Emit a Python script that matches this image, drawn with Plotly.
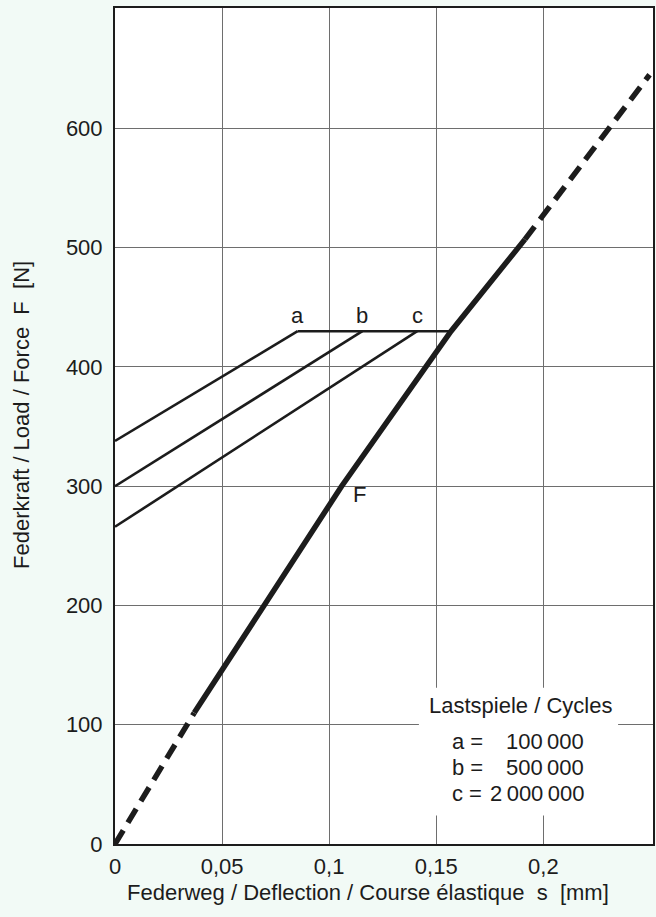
import plotly.graph_objects as go

# Spring characteristic F(s) of the disc spring
s_dash_low = [0.0, 0.0333, 0.0370]
f_dash_low = [0, 100, 110]
s_solid = [0.0370, 0.0698, 0.1058, 0.1569, 0.1884, 0.1914]
f_solid = [110, 200, 300, 430, 500, 507]
s_dash_high = [0.1914, 0.2496]
f_dash_high = [507, 645]

# Fatigue limit lines for the different load-cycle counts
cycle_names = ["a", "b", "c"]
cycle_start_force = [338, 300, 266]   # force at s = 0
cycle_end_s = [0.0853, 0.1155, 0.1411]  # deflection where the line meets the upper limit
upper_force = 430
upper_end_s = 0.1569
cycle_counts = ["100\u2009000", "500\u2009000", "2\u2009000\u2009000"]

x_ticks = [0, 0.05, 0.1, 0.15, 0.2]
x_tick_text = ["0", "0,05", "0,1", "0,15", "0,2"]
y_ticks = [0, 100, 200, 300, 400, 500, 600]

FONT = "Liberation Sans, Arial, sans-serif"
INK = "#1c1c1c"
BG = "#f2faf6"
FS = 22

fig = go.Figure()

for name, f0, s1 in zip(cycle_names, cycle_start_force, cycle_end_s):
    fig.add_trace(go.Scatter(x=[0, s1], y=[f0, upper_force], mode="lines",
                             line=dict(color=INK, width=2.6), showlegend=False))
fig.add_trace(go.Scatter(x=[cycle_end_s[0], upper_end_s], y=[upper_force, upper_force],
                         mode="lines", line=dict(color=INK, width=2.6), showlegend=False))

fig.add_trace(go.Scatter(x=s_dash_low, y=f_dash_low, mode="lines",
                         line=dict(color=INK, width=5.5, dash="16px,9px"), showlegend=False))
fig.add_trace(go.Scatter(x=s_solid, y=f_solid, mode="lines",
                         line=dict(color=INK, width=5.5), showlegend=False))
fig.add_trace(go.Scatter(x=s_dash_high, y=f_dash_high, mode="lines",
                         line=dict(color=INK, width=5.5, dash="16px,9px"), showlegend=False))

annotations = []
# curve labels
for name, s1 in zip(cycle_names, cycle_end_s):
    annotations.append(dict(x=s1, y=upper_force, text=name, showarrow=False,
                            xanchor="center", yanchor="bottom", yshift=1,
                            font=dict(family=FONT, size=FS, color=INK)))
annotations.append(dict(x=0.1140, y=293, text="F", showarrow=False,
                        xanchor="center", yanchor="middle",
                        font=dict(family=FONT, size=FS, color=INK)))

# load cycle key
annotations.append(dict(x=0.1895, y=116, text="Lastspiele / Cycles", showarrow=False,
                        xanchor="center", yanchor="middle",
                        font=dict(family=FONT, size=FS, color=INK)))
for i, (name, cnt) in enumerate(zip(cycle_names, cycle_counts)):
    yy = 86 - i * 22
    annotations.append(dict(x=0.1565, y=yy, text=f"{name} =", showarrow=False,
                            xanchor="left", yanchor="middle",
                            font=dict(family=FONT, size=FS, color=INK)))
    annotations.append(dict(x=0.2200, y=yy, text=cnt, showarrow=False,
                            xanchor="right", yanchor="middle",
                            font=dict(family=FONT, size=FS, color=INK)))

# axis titles
annotations.append(dict(xref="paper", yref="paper", x=0.47, y=-0.058,
                        text="Federweg / Deflection / Course élastique  s  [mm]",
                        showarrow=False, xanchor="center", yanchor="middle",
                        font=dict(family=FONT, size=FS, color=INK)))
annotations.append(dict(xref="paper", yref="paper", x=-0.175, y=0.513,
                        text="Federkraft / Load / Force  F  [N]", textangle=-90,
                        showarrow=False, xanchor="center", yanchor="middle",
                        font=dict(family=FONT, size=FS, color=INK)))

fig.update_layout(
    width=656, height=917,
    margin=dict(l=115, r=1, t=8, b=73),
    paper_bgcolor=BG, plot_bgcolor="white",
    annotations=annotations,
    shapes=[dict(type="rect", xref="x", yref="y", x0=0.1419, x1=0.2349, y0=24, y1=131,
                 fillcolor="white", line=dict(width=0), layer="between")],
    font=dict(family=FONT, size=FS, color=INK),
)
fig.update_xaxes(range=[0, 0.2512], tickvals=x_ticks, ticktext=x_tick_text,
                 showgrid=True, gridcolor="#6e6e6e", gridwidth=1.3,
                 showline=True, linecolor=INK, linewidth=2, mirror=True,
                 ticks="", ticklabelstandoff=2, zeroline=False,
                 tickfont=dict(family=FONT, size=FS, color=INK))
fig.update_yaxes(range=[0, 701], tickvals=y_ticks,
                 showgrid=True, gridcolor="#6e6e6e", gridwidth=1.3,
                 showline=True, linecolor=INK, linewidth=2, mirror=True,
                 ticks="", ticklabelstandoff=6, zeroline=False,
                 tickfont=dict(family=FONT, size=FS, color=INK))

fig.write_html("out.html")
